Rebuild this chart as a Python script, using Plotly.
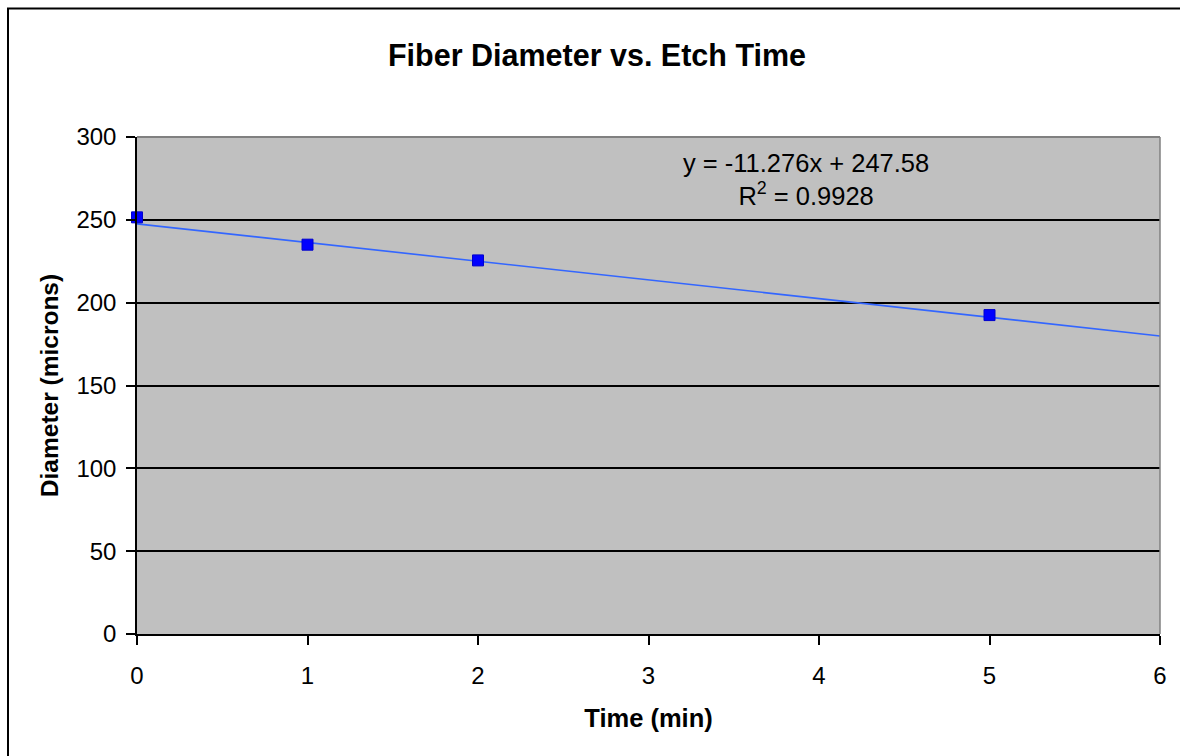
import plotly.graph_objects as go

time_min = [0, 1, 2, 5]
diameter = [251.5, 235, 225.5, 192.5]
slope = -11.276
intercept = 247.58
r_squared = 0.9928
x_range = [0, 6]
y_ticks = [0, 50, 100, 150, 200, 250, 300]
x_ticks = [0, 1, 2, 3, 4, 5, 6]

fig = go.Figure()
fig.add_trace(go.Scatter(
    x=x_range, y=[intercept + slope * v for v in x_range],
    mode="lines", line=dict(color="#3366FF", width=1.6), hoverinfo="skip", showlegend=False))
fig.add_trace(go.Scatter(
    x=time_min, y=diameter, mode="markers",
    marker=dict(symbol="square", size=11, color="#0000FF", line=dict(color="#0000CC", width=1)),
    showlegend=False, cliponaxis=False))

font = "Arial, 'Liberation Sans', sans-serif"
fig.update_layout(
    width=1180, height=756,
    margin=dict(l=137, r=20, t=137, b=122),
    paper_bgcolor="white", plot_bgcolor="#C0C0C0",
    font=dict(family=font, color="black", size=24),
    title=dict(text="<b>Fiber Diameter vs. Etch Time</b>", x=(597)/1180, xanchor="center",
               y=1 - 55/756, yanchor="middle", font=dict(size=30.5, family=font)),
    xaxis=dict(range=x_range, tickvals=x_ticks, showgrid=False, zeroline=False,
               showline=True, linecolor="black", linewidth=1.5,
               ticks="outside", ticklen=9, tickcolor="black", tickwidth=1.5,
               tickfont=dict(size=24), ticklabelstandoff=10,
               title=dict(text="<b>Time (min)</b>", font=dict(size=25.5), standoff=22)),
    yaxis=dict(range=[0, 300], tickvals=y_ticks, showgrid=True, gridcolor="black", gridwidth=1.5,
               zeroline=False, showline=True, linecolor="black", linewidth=1.5,
               ticks="outside", ticklen=9, tickcolor="black", tickwidth=1.5,
               tickfont=dict(size=24), ticklabelstandoff=5,
               title=dict(text="<b>Diameter (microns)</b>", font=dict(size=24.5), standoff=11)),
    shapes=[
        dict(type="line", xref="paper", yref="paper", x0=0, x1=1, y0=1, y1=1,
             line=dict(color="#808080", width=2), layer="above"),
        dict(type="line", xref="paper", yref="paper", x0=1, x1=1, y0=0, y1=1,
             line=dict(color="#808080", width=1.5), layer="above"),
        dict(type="rect", xref="paper", yref="paper", x0=(8-137)/1023, x1=1.2,
             y0=-0.5, y1=(634-8.5)/497, line=dict(color="black", width=2)),
    ],
    annotations=[dict(
        x=(806-137)/1023, y=(634-147)/497, xref="paper", yref="paper",
        text=f"y = {slope}x + {intercept}<br>R<sup>2</sup> = {r_squared}",
        showarrow=False, font=dict(size=25.5), align="center")],
)

fig.write_html("out.html")
